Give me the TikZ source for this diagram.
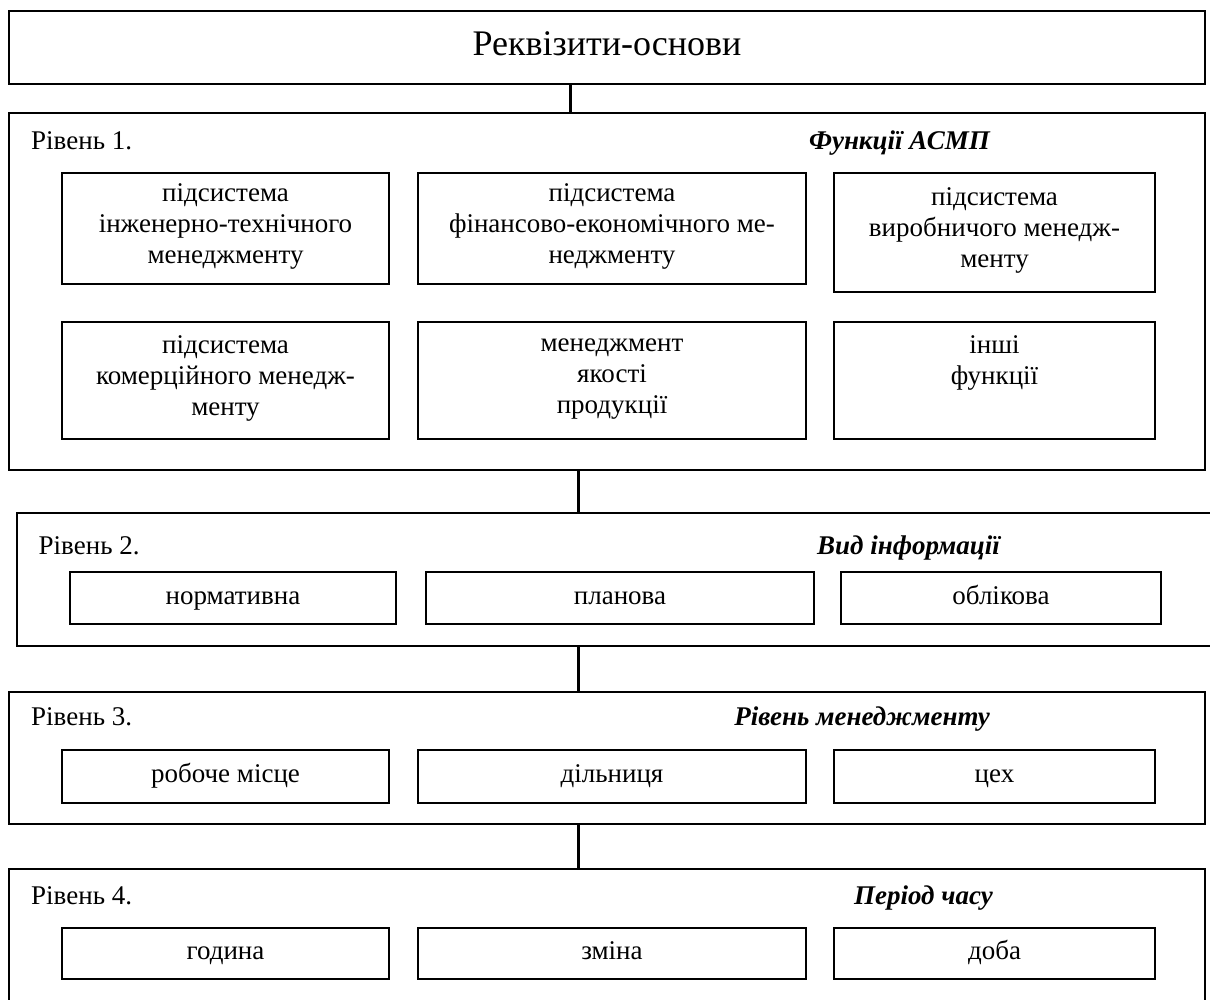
\documentclass[tikz,border=0pt]{standalone}
\usepackage{fontspec}
\setmainfont{Liberation Serif}
\usetikzlibrary{positioning}

\begin{document}
\begin{tikzpicture}[
    x=1pt, y=-1pt,
    every node/.style={font=\fontsize{27}{31}\selectfont, execute at begin node=\strut, execute at end node=\strut},
    outer/.style={draw, line width=2.5pt, inner sep=0pt},
    cell/.style={draw, line width=2.5pt, align=center, inner sep=0pt},
    lvl/.style={anchor=west, inner sep=0pt},
    cat/.style={anchor=east, inner sep=0pt, font=\fontsize{27}{31}\selectfont\bfseries\itshape},
    conn/.style={line width=3pt}
]
\useasboundingbox (0,0) rectangle (1210,999);

% top box
\node[outer, minimum width=1196pt, minimum height=73pt, font=\fontsize{36}{40}\selectfont] (top) at (607,47.5) {Реквізити-основи};

% level 1
\node[outer, minimum width=1196pt, minimum height=357pt] (lev1) at (607,291.5) {};
\node[lvl] (t1) at (31,143) {Рівень 1.};
\node[cat] (k1) at (990,143) {Функції АСМП};
\node[cell, minimum width=327pt, minimum height=111pt] (eng) at (225.5,228.5) {підсистема\\інженерно-технічного\\менеджменту};
\node[cell, minimum width=388pt, minimum height=111pt] (fin) at (612,228.5) {підсистема\\фінансово-економічного ме-\\неджменту};
\node[cell, minimum width=321pt, minimum height=119pt] (vyr) at (994.5,232.5) {підсистема\\виробничого менедж-\\менту};
\node[cell, minimum width=327pt, minimum height=117pt] (kom) at (225.5,380.5) {підсистема\\комерційного менедж-\\менту};
\node[cell, minimum width=388pt, minimum height=117pt] (yak) at (612,380.5) {менеджмент\\якості\\продукції};
\node[cell, minimum width=321pt, minimum height=117pt] (inshi) at (994.5,380.5) {інші\\функції\\\mbox{}};

% level 2
\node[outer, minimum width=1198pt, minimum height=133pt] (lev2) at (616,579.5) {};
\node[lvl] (t2) at (38.5,548) {Рівень 2.};
\node[cat] (k2) at (1000,548) {Вид інформації};
\node[cell, minimum width=326pt, minimum height=52pt] (norm) at (233,598) {нормативна};
\node[cell, minimum width=388pt, minimum height=52pt] (plan) at (620,598) {планова};
\node[cell, minimum width=320pt, minimum height=52pt] (obl) at (1001,598) {облікова};

% level 3
\node[outer, minimum width=1196pt, minimum height=132pt] (lev3) at (607,758) {};
\node[lvl] (t3) at (31,719) {Рівень 3.};
\node[cat] (k3) at (990,719) {Рівень менеджменту};
\node[cell, minimum width=327pt, minimum height=53pt] (rob) at (225.5,776.5) {робоче місце};
\node[cell, minimum width=388pt, minimum height=53pt] (dil) at (612,776.5) {дільниця};
\node[cell, minimum width=321pt, minimum height=53pt] (tseh) at (994.5,776.5) {цех};

% level 4
\node[outer, minimum width=1196pt, minimum height=141pt] (lev4) at (607,939.5) {};
\node[lvl] (t4) at (31,898) {Рівень 4.};
\node[cat] (k4) at (993,898) {Період часу};
\node[cell, minimum width=327pt, minimum height=51pt] (hod) at (225.5,953.5) {година};
\node[cell, minimum width=388pt, minimum height=51pt] (zmin) at (612,953.5) {зміна};
\node[cell, minimum width=321pt, minimum height=51pt] (doba) at (994.5,953.5) {доба};

% connectors
\coordinate (ca) at (570,0);
\coordinate (cb) at (578,0);
\draw[conn] (top.south -| ca) -- (lev1.north -| ca);
\draw[conn] (lev1.south -| cb) -- (lev2.north -| cb);
\draw[conn] (lev2.south -| cb) -- (lev3.north -| cb);
\draw[conn] (lev3.south -| cb) -- (lev4.north -| cb);
\end{tikzpicture}
\end{document}
